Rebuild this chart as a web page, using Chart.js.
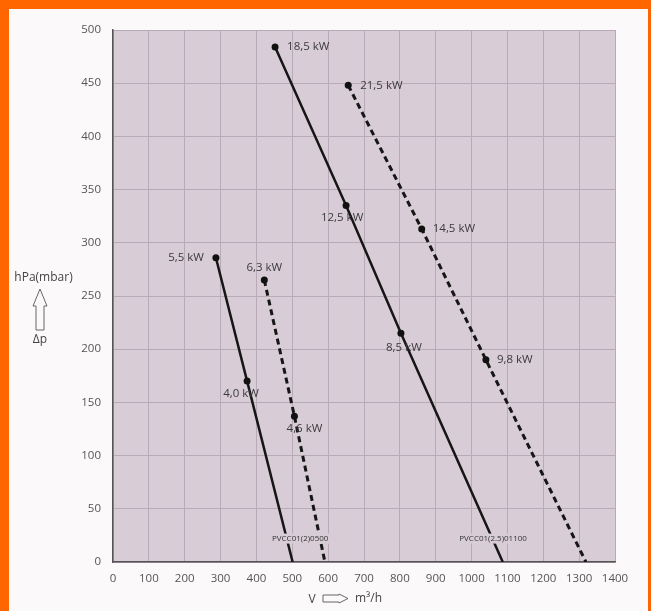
<!DOCTYPE html>
<html>
<head>
<meta charset="utf-8">
<script src="https://cdn.jsdelivr.net/npm/chart.js@4.4.1/dist/chart.umd.min.js"></script>
<style>
  html, body { margin: 0; padding: 0; background: #fcf9fa; }
  #wrap {
    width: 651px; height: 611px; box-sizing: border-box;
    border-top: 9px solid #ff6600; border-left: 9px solid #ff6600; border-right: 3px solid #ff6600;
    background: #fcf9fa;
  }
  canvas { display: block; }
</style>
</head>
<body>
<div id="wrap"><canvas id="chart" width="639" height="602"></canvas></div>
<script>
// x ticks / y ticks
const xTicks = [0,100,200,300,400,500,600,700,800,900,1000,1100,1200,1300,1400]
const yTicks = [0,50,100,150,200,250,300,350,400,450,500]

// PVCC01(2)0500 - solid and dashed curves
const smallSolidX = [287, 374, 501]
const smallSolidY = [286, 170, 0]
const smallSolidKw = ['5,5 kW', '4,0 kW', '']
const smallDashX = [422, 506, 591]
const smallDashY = [265, 137, 0]
const smallDashKw = ['6,3 kW', '4,6 kW', '']

// PVCC01(2.5)01100 - solid and dashed curves
const bigSolidX = [452, 650, 803, 1087]
const bigSolidY = [484, 335, 215, 0]
const bigSolidKw = ['18,5 kW', '12,5 kW', '8,5 kW', '']
const bigDashX = [656, 861, 1040, 1319]
const bigDashY = [448, 313, 190, 0]
const bigDashKw = ['21,5 kW', '14,5 kW', '9,8 kW', '']

const modelNames = ['PVCC01(2)0500', 'PVCC01(2.5)01100']
const modelX = [522, 1060]
const modelY = [22, 22]

const FONT = '"Open Sans", "DejaVu Sans", sans-serif'

function pts(xs, ys) {
  let out = []
  for (let i = 0; i < xs.length; i++) out.push({x: xs[i], y: ys[i]})
  return out
}
function radii(kw) {
  return kw.map(k => k ? 3.5 : 0)
}
function serie(xs, ys, kw, dashed) {
  return {
    data: pts(xs, ys),
    kw: kw,
    borderColor: '#161616',
    backgroundColor: '#111',
    borderWidth: dashed ? 3 : 2.5,
    borderDash: dashed ? [6, 4] : [],
    pointRadius: radii(kw),
    pointBorderWidth: 0,
    pointBackgroundColor: '#111',
    showLine: true,
    tension: 0,
    fill: false
  }
}

// label placement: [dx, dy, align] per point of each dataset
const labelPos = [
  [[-12, 0, 'right'], [-6, 13, 'center']],
  [[0, -12, 'center'], [10, 12, 'center']],
  [[12, 0, 'left'], [-4, 12, 'center'], [3, 14, 'center']],
  [[12, 0, 'left'], [11, 0, 'left'], [11, 0, 'left']]
]

const plotBg = {
  id: 'plotBg',
  beforeDraw(chart) {
    const {ctx, chartArea: a} = chart
    ctx.save()
    ctx.fillStyle = '#d8cdd6'
    ctx.fillRect(a.left, a.top, a.right - a.left, a.bottom - a.top)
    ctx.restore()
  }
}

const extras = {
  id: 'extras',
  afterDraw(chart) {
    const ctx = chart.ctx
    const xs = chart.scales.x, ys = chart.scales.y
    ctx.save()
    // kW labels
    ctx.fillStyle = '#3a3a3a'
    ctx.font = '11.5px ' + FONT
    ctx.textBaseline = 'middle'
    chart.data.datasets.forEach((ds, i) => {
      const meta = chart.getDatasetMeta(i)
      ds.kw.forEach((k, j) => {
        if (!k) return
        const p = meta.data[j]
        const pos = labelPos[i][j]
        ctx.textAlign = pos[2]
        ctx.fillText(k, p.x + pos[0], p.y + pos[1])
      })
    })
    // model names (text sits on a patch of plot colour)
    ctx.font = '8px ' + FONT
    ctx.textAlign = 'center'
    modelNames.forEach((n, i) => {
      const px = xs.getPixelForValue(modelX[i]), py = ys.getPixelForValue(modelY[i])
      const w = ctx.measureText(n).width
      ctx.fillStyle = '#d8cdd6'
      ctx.fillRect(px - w / 2 - 1, py - 5, w + 2, 10)
      ctx.fillStyle = '#333'
      ctx.fillText(n, px, py)
    })
    // y axis title
    ctx.fillStyle = '#444'
    ctx.font = '12px ' + FONT
    ctx.fillText('hPa(mbar)', 34.5, 269)
    ctx.fillText('\u0394p', 31, 331)
    ctx.strokeStyle = '#666'
    ctx.lineWidth = 1
    ctx.beginPath()
    ctx.moveTo(31, 280)
    ctx.lineTo(38, 297)
    ctx.lineTo(35, 297)
    ctx.lineTo(35, 321)
    ctx.lineTo(27, 321)
    ctx.lineTo(27, 297)
    ctx.lineTo(24, 297)
    ctx.closePath()
    ctx.stroke()
    // x axis title
    ctx.textAlign = 'center'
    ctx.fillText('V', 303, 591)
    ctx.textAlign = 'left'
    ctx.fillText('m\u00b3/h', 346, 590)
    ctx.beginPath()
    ctx.moveTo(314, 586)
    ctx.lineTo(330, 586)
    ctx.lineTo(330, 585)
    ctx.lineTo(339, 589.5)
    ctx.lineTo(330, 594)
    ctx.lineTo(330, 593)
    ctx.lineTo(314, 593)
    ctx.closePath()
    ctx.stroke()
    ctx.restore()
  }
}

const data = {
  datasets: [
    serie(smallSolidX, smallSolidY, smallSolidKw, false),
    serie(smallDashX, smallDashY, smallDashKw, true),
    serie(bigSolidX, bigSolidY, bigSolidKw, false),
    serie(bigDashX, bigDashY, bigDashKw, true)
  ]
}

const myChart = new Chart(document.getElementById('chart'), {
  type: 'scatter',
  data: data,
  plugins: [plotBg, extras],
  options: {
    responsive: false,
    animation: false,
    events: [],
    layout: { padding: { top: 21, right: 33, left: 0, bottom: 0 } },
    plugins: { legend: { display: false }, tooltip: { enabled: false } },
    scales: {
      x: {
        type: 'linear',
        min: 0, max: 1400,
        afterFit: (s) => { s.height = 49 },
        afterBuildTicks: (s) => { s.ticks = xTicks.map(v => ({value: v})) },
        grid: { color: '#b9aab7', lineWidth: 1, drawTicks: false },
        border: { color: '#555', width: 1.5 },
        ticks: { color: '#555', padding: 10, font: { family: FONT, size: 11.5 }, callback: (v) => String(v) }
      },
      y: {
        type: 'linear',
        min: 0, max: 500,
        afterFit: (s) => { s.width = 104 },
        afterBuildTicks: (s) => { s.ticks = yTicks.map(v => ({value: v})) },
        grid: { color: '#b9aab7', lineWidth: 1, drawTicks: false },
        border: { color: '#555', width: 1.5 },
        ticks: { color: '#555', padding: 12, font: { family: FONT, size: 11.5 }, callback: (v) => String(v) }
      }
    }
  }
})
</script>
</body>
</html>
